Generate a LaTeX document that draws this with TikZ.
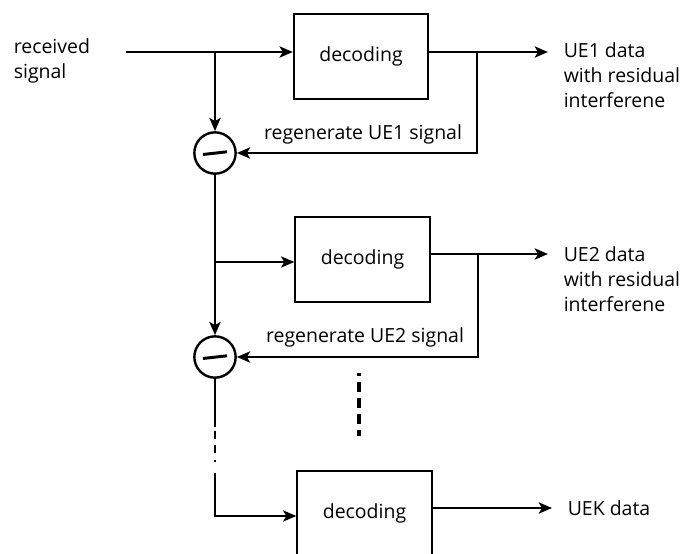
\documentclass[tikz,border=0pt]{standalone}
\usepackage{fontspec}
\setmainfont{Open Sans}
\usetikzlibrary{arrows.meta}
\begin{document}
\begin{tikzpicture}[x=0.75pt,y=-0.75pt,
  font=\fontsize{14.6}{18.75}\selectfont,
  line width=1.2pt,
  arr/.style={-{Stealth[length=10pt,width=8.5pt,inset=2.5pt]}},
  decbox/.style={draw,line width=1.3pt,minimum width=101pt,minimum height=64pt,inner sep=0pt},
  subtr/.style={draw,circle,line width=1.8pt,minimum size=31pt,inner sep=0pt},
  minusbar/.style={line width=2.2pt},
  gapdash/.style={line width=2.2pt},
  lbl/.style={align=left,anchor=west,inner sep=0pt},
  fblbl/.style={anchor=south,inner sep=0pt}]
\useasboundingbox (0,0) rectangle (683,554);
\clip (0,0) rectangle (683,554);

% decoder stages
\node[decbox] (dec1) at (361,56.5) {decoding};
\node[decbox] (dec2) at (362.5,259.5) {decoding};
\node[decbox] (dec3) at (364.5,513.5) {decoding};

% subtraction nodes with their minus bars
\node[subtr] (c1) at (215,153) {};
\node[subtr] (c2) at (215,357) {};
\foreach \sn in {c1,c2}
  \draw[minusbar] ([xshift=-9pt,yshift=-1.1pt]\sn.center) -- ([xshift=9pt,yshift=0.9pt]\sn.center);

% labels
\node[lbl] (rx) at (13,61) {received\\signal};
\node[lbl] (ue1) at (563,75) {UE1 data\\with residual\\interferene};
\node[lbl] (ue2) at (563,279) {UE2 data\\with residual\\interferene};
\node[lbl] (uek) at (567,508) {UEK data};
\node[fblbl] (rg1) at (363,145) {regenerate UE1 signal};
\node[fblbl] (rg2) at (365,348) {regenerate UE2 signal};

% junction points
\coordinate (in0) at (126,52);
\coordinate (j1) at (215,52);
\coordinate (j2) at (215,262);
\coordinate (o1) at (548,52);
\coordinate (f1) at (477,52);
\coordinate (o2) at (548,254);
\coordinate (f2) at (478,254);
\coordinate (o3) at (552,508);
\coordinate (d1) at (215,427);
\coordinate (d2) at (215,473);
\coordinate (j3) at (215,516);

% stage 1
\draw[arr] (in0) -- (in0 -| dec1.west);
\draw[arr] (j1) -- (c1);
\draw[arr] (dec1.east |- o1) -- (o1);
\draw[arr] (f1) |- (c1.east);

% stage 2
\draw[arr] (c1) -- (c2);
\draw[arr] (j2) -- (j2 -| dec2.west);
\draw[arr] (dec2.east |- o2) -- (o2);
\draw[arr] (f2) |- (c2.east);

% last stage, reached through the omitted stages
\draw (c2) -- (d1);
\draw[gapdash] (215,431) -- (215,439) (215,445) -- (215,453) (215,460) -- (215,461.5);
\draw[arr] (d2) -- (j3) -- (j3 -| dec3.west);
\draw[arr] (dec3.east |- o3) -- (o3);

% omitted stages
\draw[line width=2.4pt,dash pattern=on 2pt off 5pt on 7pt off 5pt on 7pt off 5pt on 7pt off 5pt on 7pt off 5pt on 2pt] (359,373) -- (359,436);
\end{tikzpicture}
\end{document}
